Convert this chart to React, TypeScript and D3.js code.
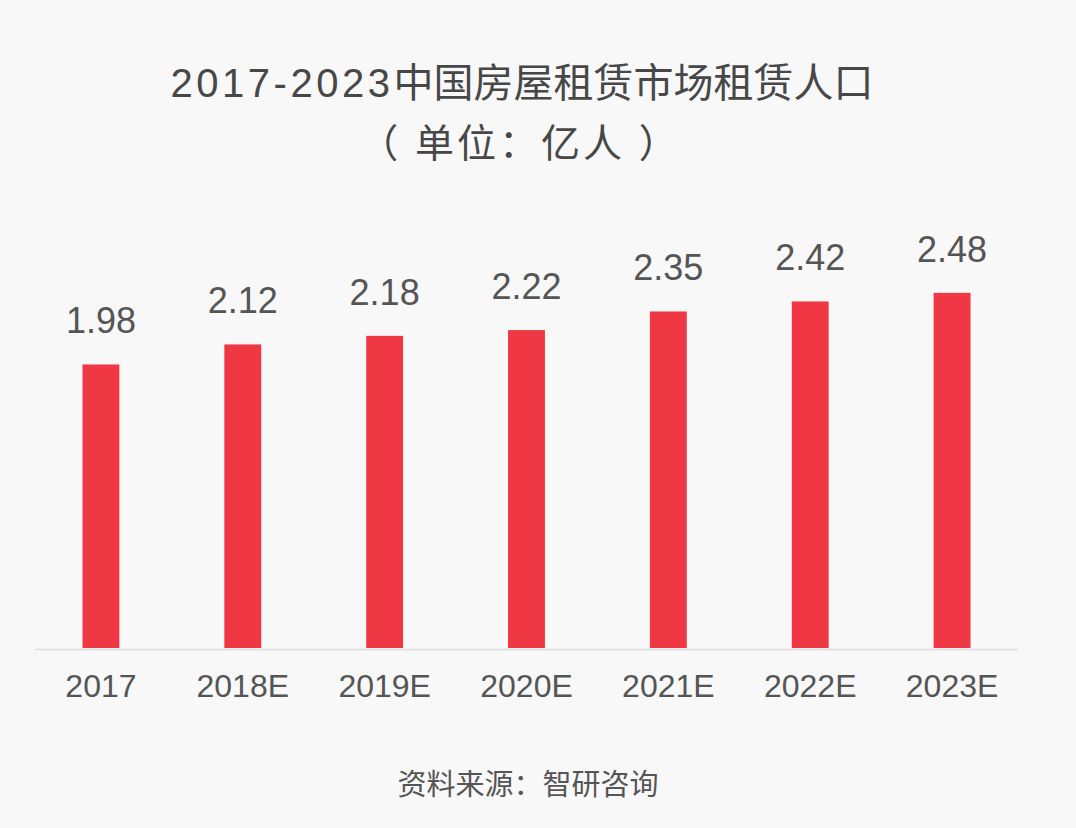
import { useEffect, useRef } from 'react';
import * as d3 from 'd3';

const categories = ['2017', '2018E', '2019E', '2020E', '2021E', '2022E', '2023E'];
const values = [1.98, 2.12, 2.18, 2.22, 2.35, 2.42, 2.48];
const titleYears = '2017-2023';
const titleText = '中国房屋租赁市场租赁人口';
const subtitle = '（ 单位：亿人 ）';
const sourceText = '资料来源：智研咨询';

const FONT = '"Liberation Sans", Arial, "Noto Sans CJK SC", sans-serif';

export default function App() {
  const svgRef = useRef<SVGSVGElement | null>(null);

  useEffect(() => {
    const svgElement = svgRef.current;
    if (!svgElement) {
      return;
    }
    const width = 1076;
    const height = 828;
    const baseline = 648;

    const svg = d3.select(svgElement);
    svg.selectAll('*').remove();
    svg.attr('viewBox', `0 0 ${width} ${height}`);

    svg.append('rect').attr('width', width).attr('height', height).attr('fill', '#f8f8f8');

    const x = d3.scaleBand<string>().domain(categories).range([30, 1023]).paddingInner(0.74).paddingOuter(0.37);
    const y = d3.scaleLinear().domain([0, 2.5]).range([baseline, baseline - 2.5 * 143.2]);

    // title
    const title = svg
      .append('text')
      .attr('x', 522)
      .attr('y', 97)
      .attr('text-anchor', 'middle')
      .attr('font-family', FONT)
      .attr('font-size', 40)
      .attr('fill', '#474747');
    title.append('tspan').attr('letter-spacing', 3.5).text(titleYears);
    title.append('tspan').text(titleText);

    svg
      .append('text')
      .attr('x', 520)
      .attr('y', 157)
      .attr('text-anchor', 'middle')
      .attr('font-family', FONT)
      .attr('font-size', 39)
      .attr('letter-spacing', 3)
      .attr('fill', '#474747')
      .style('white-space', 'pre')
      .text(subtitle);

    // axis line
    svg
      .append('line')
      .attr('x1', 35)
      .attr('x2', 1018)
      .attr('y1', baseline + 1.5)
      .attr('y2', baseline + 1.5)
      .attr('stroke', '#dcdcdc')
      .attr('stroke-width', 1.5);

    const data = categories.map((c, i) => ({ c, v: values[i] }));

    svg
      .append('g')
      .selectAll('rect')
      .data(data)
      .join('rect')
      .attr('x', (d) => x(d.c)!)
      .attr('width', x.bandwidth())
      .attr('y', (d) => y(d.v))
      .attr('height', (d) => baseline - y(d.v))
      .attr('fill', '#ef3843');

    svg
      .append('g')
      .selectAll('text')
      .data(data)
      .join('text')
      .attr('x', (d) => x(d.c)! + x.bandwidth() / 2)
      .attr('y', (d) => y(d.v) - 31)
      .attr('text-anchor', 'middle')
      .attr('font-family', FONT)
      .attr('font-size', 36)
      .attr('fill', '#555')
      .text((d) => d.v.toFixed(2));

    const xAxis = d3.axisBottom(x).tickSize(0).tickPadding(0);
    const axisG = svg.append('g').attr('transform', `translate(0,${baseline})`).call(xAxis);
    axisG.select('.domain').remove();
    axisG
      .selectAll('text')
      .attr('dy', 0)
      .attr('y', 49)
      .attr('font-family', FONT)
      .attr('font-size', 32)
      .attr('fill', '#555');

    svg
      .append('text')
      .attr('x', 528)
      .attr('y', 795)
      .attr('text-anchor', 'middle')
      .attr('font-family', FONT)
      .attr('font-size', 29)
      .attr('fill', '#555')
      .text(sourceText);
  }, []);

  return (
    <svg
      ref={svgRef}
      width={1076}
      height={828}
      style={{ position: 'absolute', left: 0, top: 0, display: 'block' }}
    />
  );
}
